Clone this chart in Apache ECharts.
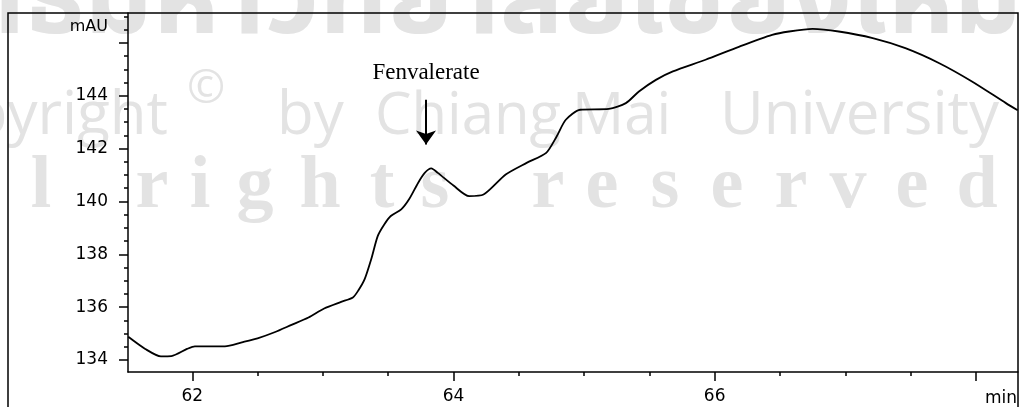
<!DOCTYPE html>
<html>
<head>
<meta charset="utf-8">
<script src="https://cdn.jsdelivr.net/npm/echarts@6/dist/echarts.min.js"></script>
<style>
html,body{margin:0;padding:0;background:#fff;}
#chart{width:1020px;height:407px;}
</style>
</head>
<body>
<div id="chart"></div>
<script>
// Retention time (min)
const times = [61.51, 61.64, 61.76, 61.84, 61.96, 62.02, 62.25, 62.38, 62.50, 62.63, 62.76, 62.89, 63.01, 63.14, 63.23, 63.27, 63.32, 63.37, 63.42, 63.47, 63.52, 63.60, 63.66, 63.73, 63.78, 63.83, 63.88, 64.00, 64.12, 64.23, 64.40, 64.56, 64.71, 64.79, 64.86, 64.97, 65.19, 65.32, 65.42, 65.55, 65.68, 65.93, 66.19, 66.44, 66.57, 66.75, 66.95, 67.21, 67.46, 67.72, 67.97, 68.23, 68.32];
// Detector signal (mAU)
const absorbance = [134.88, 134.42, 134.14, 134.15, 134.42, 134.52, 134.52, 134.67, 134.82, 135.05, 135.33, 135.61, 135.95, 136.20, 136.37, 136.62, 137.06, 137.81, 138.69, 139.13, 139.45, 139.70, 140.08, 140.71, 141.08, 141.25, 141.08, 140.60, 140.20, 140.26, 141.02, 141.46, 141.84, 142.46, 143.09, 143.47, 143.50, 143.72, 144.16, 144.60, 144.92, 145.36, 145.86, 146.30, 146.43, 146.53, 146.43, 146.18, 145.80, 145.23, 144.54, 143.72, 143.45];

const xMajorTicks = [62, 64, 66, 68];
const xMinorTicks = [62.5, 63, 63.5, 64.5, 65, 65.5, 66.5, 67, 67.5];
const xLabelValues = [62, 64, 66];
const yMajorTicks = [134, 136, 138, 140, 142, 144, 146];
const yMinorTicks = [133.5, 134.5, 135, 135.5, 136.5, 137, 137.5, 138.5, 139, 139.5, 140.5, 141, 141.5, 142.5, 143, 143.5, 144.5, 145, 145.5, 146.5, 147];
const yLabelValues = [134, 136, 138, 140, 142, 144];
const xUnit = 'min';
const yUnit = 'mAU';

const peakName = 'Fenvalerate';
const peakTime = 63.79;
const arrowFrom = 143.85;
const arrowTo = 142.15;
const peakLabelLevel = 144.87;

const xMin = 61.508, xMax = 68.322;
const yMin = 133.547, yMax = 147.13;

const labelFont = 'DejaVu Sans';
const chart = echarts.init(document.getElementById('chart'), null, {renderer: 'canvas'});

const wmStyle = {
  fill: '#e3e3e3',
  textShadowColor: '#cfcfcf',
  textShadowOffsetX: 2,
  textShadowOffsetY: 2,
  textShadowBlur: 0
};
function wm(text, x, y, font, align) {
  return {
    type: 'text', z: -10, silent: true,
    style: Object.assign({text: text, x: x, y: y, font: font, align: align || 'left', verticalAlign: 'middle'}, wmStyle)
  };
}
const serifLetters = ['l','r','i','g','h','t','s','r','e','s','e','r','v','e','d'];
const serifX = [41,152,200,255,320,382,435,548,602,665,727,791,848,912,977];
const graphics = [];
graphics.push(wm('ลิขสิทธิ์มหาวิทยาลัยเชียงใหม่', 1022, 12, 'bold 106px "Noto Sans Thai", "Noto Sans", "DejaVu Sans"', 'right'));
graphics.push(wm('Copyright', 168, 117, '60px "Open Sans"', 'right'));
graphics.push(wm('\u00A9', 187, 90, '46px "Open Sans"', 'left'));
graphics.push(wm('by', 277, 117, '60px "Open Sans"', 'left'));
graphics.push(wm('Chiang', 375, 117, '58px "Open Sans"', 'left'));
graphics.push(wm('Mai', 572, 117, '58px "Open Sans"', 'left'));
graphics.push(wm('University', 720, 117, '60px "Open Sans"', 'left'));
serifLetters.forEach(function (ch, i) {
  graphics.push(wm(ch, serifX[i], 188, 'bold 74px "Liberation Serif"', 'center'));
});
graphics.push({
  type: 'rect', z: 100, silent: true,
  shape: {x: 8, y: 13, width: 1010, height: 460},
  style: {fill: 'none', stroke: '#000', lineWidth: 1.5}
});

const axisLineStyle = {color: '#000', width: 1.5};

chart.setOption({
  animation: false,
  backgroundColor: '#fff',
  grid: {left: 128, top: 13, right: 2, bottom: 34, containLabel: false},
  graphic: graphics,
  xAxis: [
    {
      type: 'value', min: xMin, max: xMax, position: 'bottom',
      axisLine: {show: true, lineStyle: axisLineStyle},
      axisTick: {show: true, customValues: xMajorTicks, length: 9, lineStyle: axisLineStyle},
      axisLabel: {customValues: xLabelValues, color: '#000', fontFamily: labelFont, fontSize: 17, margin: 16, formatter: function (v) { return String(Math.round(v)); }},
      splitLine: {show: false},
      name: xUnit, nameLocation: 'end', nameGap: -33,
      nameTextStyle: {color: '#000', fontFamily: labelFont, fontSize: 17, align: 'left', verticalAlign: 'top', padding: [18, 0, 0, 0]}
    },
    {
      type: 'value', min: xMin, max: xMax, position: 'bottom',
      axisLine: {show: false},
      axisTick: {show: true, customValues: xMinorTicks, length: 4, lineStyle: axisLineStyle},
      axisLabel: {show: false},
      splitLine: {show: false}
    }
  ],
  yAxis: [
    {
      type: 'value', min: yMin, max: yMax, position: 'left',
      axisLine: {show: true, lineStyle: axisLineStyle},
      axisTick: {show: true, customValues: yMajorTicks, length: 9, lineStyle: axisLineStyle},
      axisLabel: {customValues: yLabelValues, color: '#000', fontFamily: labelFont, fontSize: 17, margin: 20, formatter: function (v) { return String(Math.round(v)); }},
      splitLine: {show: false},
      name: yUnit, nameLocation: 'end', nameGap: -14,
      nameTextStyle: {color: '#000', fontFamily: labelFont, fontSize: 16, align: 'right', verticalAlign: 'middle', padding: [0, 20, 0, 0]}
    },
    {
      type: 'value', min: yMin, max: yMax, position: 'left',
      axisLine: {show: false},
      axisTick: {show: true, customValues: yMinorTicks, length: 4, lineStyle: axisLineStyle},
      axisLabel: {show: false},
      splitLine: {show: false}
    }
  ],
  series: [{
    type: 'line',
    xAxisIndex: 0, yAxisIndex: 0,
    data: times.map(function (t, i) { return [t, absorbance[i]]; }),
    showSymbol: false,
    smooth: 0.25,
    lineStyle: {color: '#000', width: 1.8},
    z: 5,
    markLine: {
      silent: true,
      symbol: ['none', 'arrow'],
      symbolSize: [15, 14],
      lineStyle: {color: '#000', width: 2, type: 'solid'},
      label: {show: false},
      data: [[{coord: [peakTime, arrowFrom]}, {coord: [peakTime, arrowTo]}]]
    },
    markPoint: {
      silent: true,
      data: [{
        coord: [peakTime, peakLabelLevel],
        symbol: 'circle', symbolSize: 1,
        itemStyle: {color: 'rgba(0,0,0,0)'},
        label: {show: true, position: 'inside', formatter: peakName, color: '#000', fontFamily: 'Liberation Serif', fontSize: 23}
      }]
    }
  }]
});
</script>
</body>
</html>
